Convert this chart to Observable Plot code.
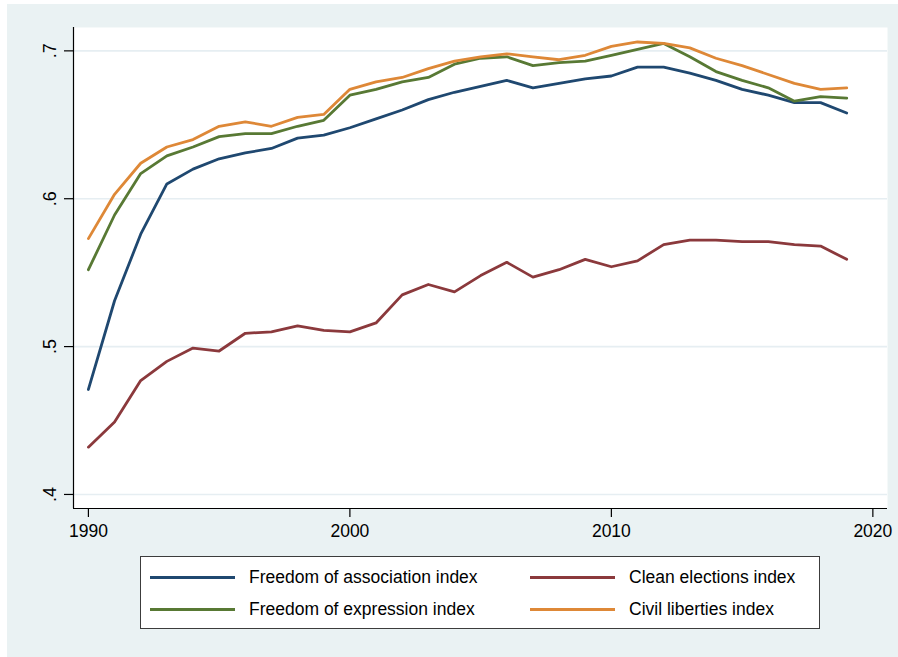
<!DOCTYPE html>
<html>
<head>
<meta charset="utf-8">
<script src="https://cdn.jsdelivr.net/npm/d3@7"></script>
<script src="https://cdn.jsdelivr.net/npm/@observablehq/plot@0.6"></script>
<style>
  html, body { margin: 0; padding: 0; background: #ffffff; width: 898px; height: 657px; overflow: hidden; }
  body { font-family: "Liberation Sans", Arial, Helvetica, sans-serif; position: relative; }
  #bg { position: absolute; left: 7px; top: 4px; width: 891px; height: 653px; background: #eaf2f3; }
  #chart { position: absolute; left: 0; top: 0; }
  #legend { position: absolute; left: 140px; top: 556px; width: 680px; height: 73px; box-sizing: border-box;
            border: 1.5px solid #3c3c3c; background: #ffffff; }
  .sw { position: absolute; height: 3px; width: 85px; }
  .lt { position: absolute; font-size: 17.5px; line-height: 20px; color: #000; white-space: nowrap; }
</style>
</head>
<body>
<div id="bg"></div>
<div id="chart"></div>
<div id="legend"></div>
<script>
const years = [1990,1991,1992,1993,1994,1995,1996,1997,1998,1999,2000,2001,2002,2003,2004,2005,2006,2007,2008,2009,2010,2011,2012,2013,2014,2015,2016,2017,2018,2019];
const association = [0.471,0.531,0.576,0.610,0.620,0.627,0.631,0.634,0.641,0.643,0.648,0.654,0.660,0.667,0.672,0.676,0.680,0.675,0.678,0.681,0.683,0.689,0.689,0.685,0.680,0.674,0.670,0.665,0.665,0.658];
const clean = [0.432,0.449,0.477,0.490,0.499,0.497,0.509,0.510,0.514,0.511,0.510,0.516,0.535,0.542,0.537,0.548,0.557,0.547,0.552,0.559,0.554,0.558,0.569,0.572,0.572,0.571,0.571,0.569,0.568,0.559];
const expression = [0.552,0.589,0.617,0.629,0.635,0.642,0.644,0.644,0.649,0.653,0.670,0.674,0.679,0.682,0.691,0.695,0.696,0.690,0.692,0.693,0.697,0.701,0.705,0.696,0.686,0.680,0.675,0.666,0.669,0.668];
const civil = [0.573,0.603,0.624,0.635,0.640,0.649,0.652,0.649,0.655,0.657,0.674,0.679,0.682,0.688,0.693,0.696,0.698,0.696,0.694,0.697,0.703,0.706,0.705,0.702,0.695,0.690,0.684,0.678,0.674,0.675];

const seriesNames = ["Freedom of association index","Clean elections index","Freedom of expression index","Civil liberties index"];
const seriesColors = ["#1f4870","#8b393c","#587934","#de8837"];
const seriesValues = [association, clean, expression, civil];

const xTicks = [1990, 2000, 2010, 2020];
const yTicks = [0.4, 0.5, 0.6, 0.7];
const yTickLabels = [".4", ".5", ".6", ".7"];
const xDomain = [1989.43, 2020.56];
const yDomain = [0.3905, 0.7158];

const rows = [];
seriesNames.forEach((name, k) => {
  years.forEach((yr, i) => rows.push({series: name, year: yr, value: seriesValues[k][i]}));
});
const yLabelRows = yTicks.map((v, i) => ({v, label: yTickLabels[i]}));

const plot = Plot.plot({
  width: 898,
  height: 544,
  marginLeft: 73,
  marginRight: 11,
  marginTop: 27,
  marginBottom: 36,
  style: { background: "transparent", fontFamily: "'Liberation Sans', Arial, Helvetica, sans-serif", fontSize: "17px", color: "#000" },
  x: { domain: xDomain, axis: null },
  y: { domain: yDomain, axis: null },
  color: { domain: seriesNames, range: seriesColors },
  marks: [
    Plot.frame({ fill: "white", stroke: "none" }),
    Plot.gridY(yTicks, { stroke: "#e6eef2", strokeOpacity: 1, strokeWidth: 1.6 }),
    Plot.line(rows, { x: "year", y: "value", z: "series", stroke: "series", strokeWidth: 2.8, strokeLinejoin: "round" }),
    Plot.ruleY([yDomain[0]], { stroke: "#000", strokeWidth: 1.2 }),
    Plot.ruleX([xDomain[0]], { stroke: "#000", strokeWidth: 1.2 }),
    Plot.axisX(xTicks, { tickSize: 9, tickPadding: 7.5, tickFormat: d => String(d), fontSize: 17.5, stroke: "#000", strokeWidth: 1.2, label: null }),
    Plot.axisY(yTicks, { tickSize: 9, tickFormat: () => "", stroke: "#000", strokeWidth: 1.2, label: null }),
    Plot.text(yLabelRows, { y: "v", text: "label", frameAnchor: "left", dx: -18, rotate: -90, textAnchor: "middle", lineAnchor: "bottom", fontSize: 18, fill: "#000" })
  ]
});
document.getElementById("chart").appendChild(plot);

// legend
const legend = document.getElementById("legend");
const legendPos = [
  {sx: 9, tx: 108, cy: 20},
  {sx: 389, tx: 488, cy: 20},
  {sx: 9, tx: 108, cy: 52},
  {sx: 389, tx: 488, cy: 52}
];
seriesNames.forEach((name, k) => {
  const p = legendPos[k];
  const sw = document.createElement("div");
  sw.className = "sw";
  sw.style.left = p.sx + "px";
  sw.style.top = (p.cy - 1.5) + "px";
  sw.style.background = seriesColors[k];
  legend.appendChild(sw);
  const t = document.createElement("div");
  t.className = "lt";
  t.style.left = p.tx + "px";
  t.style.top = (p.cy - 10) + "px";
  t.textContent = name;
  legend.appendChild(t);
});
</script>
</body>
</html>
